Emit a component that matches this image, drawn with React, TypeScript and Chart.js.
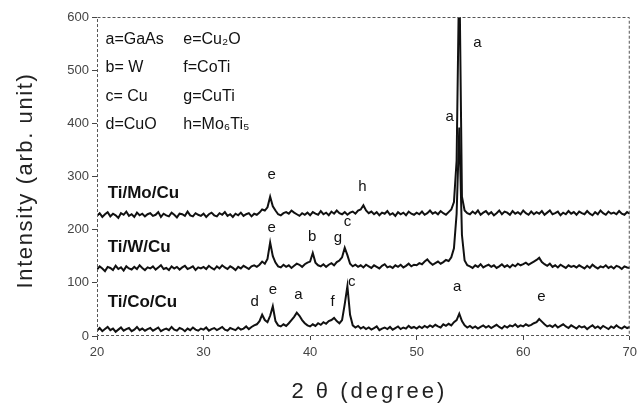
import React, { useEffect, useRef } from "react";
import { Chart, registerables } from "chart.js";

Chart.register(...registerables);

// 2θ grid (degrees), 0.25° step from 20 to 70
const twoTheta: number[] = Array.from({ length: 201 }, (_, i) => 20 + i * 0.25);

const tiMoCu: number[] = [
  226, 231, 224, 229, 233, 225, 230, 227, 222, 231, 228, 234, 226, 229, 224, 232, 227, 230, 225, 229,
  231, 226, 228, 233, 224, 230, 227, 225, 232, 228, 223, 230, 229, 226, 234, 227, 225, 231, 228, 226,
  230, 224, 229, 232, 227, 225, 231, 228, 233, 226, 229, 224, 230, 227, 232, 226, 229, 231, 225, 230,
  228, 232, 238, 236, 242, 262, 244, 236, 229, 227, 231, 233, 230, 236, 232, 229, 226, 231, 228, 232,
  227, 233, 230, 228, 235, 229, 232, 227, 234, 230, 236, 231, 229, 233, 228, 232, 234, 230, 236, 238,
  246, 236, 231, 234, 229, 233, 227, 232, 230, 235, 228, 231, 226, 233, 229, 232, 227, 234, 230, 228,
  232, 229, 234, 228, 231, 236, 230, 233, 229, 235, 231, 228, 233, 238, 252, 330, 700, 262, 236, 231,
  229, 234, 230, 236, 228, 232, 235, 229, 233, 227, 231, 236, 229, 234, 232, 228, 235, 230, 233, 229,
  236, 231, 228, 234, 229, 233, 230, 235, 228, 232, 236, 229, 231, 234, 227, 232, 229, 235, 230, 233,
  228, 234, 231, 229, 235, 230, 227, 233, 229, 236, 231, 228, 234, 230, 232, 229, 235, 230, 228, 233, 230,
];

const tiWCu: number[] = [
  125, 131, 127, 122, 130, 128, 124, 132, 126, 129, 123, 131, 127, 125, 130, 126, 133, 128, 124, 129,
  127, 131, 125, 129, 133, 126, 128, 124, 131, 127, 130, 125, 129, 132, 126, 128, 131, 124, 129, 127,
  130, 126, 132, 128, 125, 131, 127, 133, 129, 126, 131, 128, 124, 130, 127, 132, 129, 126, 131, 133,
  130, 134, 140, 136, 145, 176, 150, 138, 131, 129, 134, 130, 133, 128, 132, 136, 134, 130, 135, 138,
  140, 156, 138, 133, 131, 135, 130, 134, 137, 133, 139, 142, 148, 166, 152, 136, 131, 134, 130, 133,
  129, 134, 131, 128, 133, 130, 127, 132, 135, 129, 131, 128, 133, 130, 134, 129, 132, 136, 131, 134,
  133, 137, 135, 140, 144, 138, 134, 137, 140, 136, 139, 143, 141, 148, 165, 230, 392, 190, 142, 133,
  131, 128, 133, 130, 135, 129, 132, 134, 130, 133, 128, 131, 135, 130, 133, 129, 134, 131, 136, 133,
  135, 138, 134, 137, 140, 143, 147, 139, 135, 132, 136, 130, 133, 129, 134, 131, 128, 133, 130, 132,
  129, 133, 130, 127, 132, 128, 134, 130, 127, 131, 129, 133, 128, 131, 127, 132, 130, 126, 131, 129, 128,
];

const tiCoCu: number[] = [
  10, 15, 9, 13, 17, 11, 14, 8, 12, 16, 10, 13, 15, 9, 12, 17, 11, 14, 10, 13,
  15, 10, 13, 16, 9, 12, 14, 11, 17, 12, 10, 15, 13, 9, 14, 11, 16, 12, 10, 14,
  12, 16, 10, 13, 15, 11, 14, 17, 12, 10, 15, 13, 11, 16, 12, 14, 18, 13, 17, 20,
  22, 28, 40, 30, 26, 38, 56, 28, 20, 18, 22, 19, 24, 30, 36, 44, 38, 30, 24, 20,
  18, 22, 19, 24, 21, 26, 23, 28, 30, 34, 28, 24, 30, 60, 94, 40, 20, 16, 19, 14,
  17, 13, 16, 12, 15, 18, 11, 14, 16, 13, 17, 12, 15, 18, 13, 16, 14, 19, 15, 17,
  14, 18, 15, 19, 16, 20, 17, 21, 18, 16, 22, 19, 23, 20, 26, 30, 42, 28, 20, 16,
  19, 15, 18, 14, 17, 20, 16, 19, 15, 18, 21, 17, 14, 19, 16, 20, 18, 22, 17, 20,
  18, 22, 19, 21, 24, 26, 32, 27, 22, 18, 20, 17, 21, 16, 19, 22, 18, 15, 20, 17,
  14, 19, 16, 18, 13, 17, 20, 15, 18, 14, 19, 16, 13, 18, 15, 20, 16, 14, 18, 15, 17,
];

const seriesNames = ["Ti/Mo/Cu", "Ti/W/Cu", "Ti/Co/Cu"];
const seriesNameX = [21.0, 21.0, 21.0];
const seriesNameY = [269, 167, 64];

const peakLabels = ["e", "h", "a", "a", "e", "b", "g", "c", "d", "e", "a", "f", "c", "a", "e"];
const peakLabelX = [36.4, 44.9, 55.7, 53.1, 36.4, 40.2, 42.6, 43.5, 34.8, 36.5, 38.9, 42.1, 43.9, 53.8, 61.7];
const peakLabelY = [303, 280, 551, 412, 203, 186, 184, 214, 64, 86, 77, 64, 102, 92, 73];

const legendLeft = ["a=GaAs", "b= W", "c= Cu", "d=CuO"];
const legendRight = ["e=Cu\u2082O", "f=CoTi", "g=CuTi", "h=Mo\u2086Ti\u2085"];
const legendColX = [20.8, 28.1];
const legendRowY = [557, 504, 450, 397];

const xTitle = "2 \u03b8 (degree)";
const yTitle = "Intensity (arb. unit)";

const xTickStep = 10;
const yTickStep = 100;

const FONT = '"Liberation Sans", Arial, Helvetica, sans-serif';

const overlayPlugin = {
  id: "overlay",
  afterDatasetsDraw(chart: any) {
    const { ctx, chartArea: a, scales } = chart;
    const x = scales.x;
    const y = scales.y;
    ctx.save();
    ctx.strokeStyle = "#555";
    ctx.lineWidth = 1;
    ctx.setLineDash([3, 2]);
    ctx.strokeRect(a.left + 0.5, a.top + 0.5, a.right - a.left - 1, a.bottom - a.top - 1);
    ctx.setLineDash([]);
    ctx.fillStyle = "#111";
    ctx.textBaseline = "middle";
    ctx.textAlign = "left";
    ctx.font = `16px ${FONT}`;
    legendLeft.forEach((t, i) =>
      ctx.fillText(t, x.getPixelForValue(legendColX[0]), y.getPixelForValue(legendRowY[i]))
    );
    legendRight.forEach((t, i) =>
      ctx.fillText(t, x.getPixelForValue(legendColX[1]), y.getPixelForValue(legendRowY[i]))
    );
    ctx.font = `bold 17px ${FONT}`;
    seriesNames.forEach((t, i) =>
      ctx.fillText(t, x.getPixelForValue(seriesNameX[i]), y.getPixelForValue(seriesNameY[i]))
    );
    ctx.textAlign = "center";
    ctx.font = `15px ${FONT}`;
    peakLabels.forEach((t, i) =>
      ctx.fillText(t, x.getPixelForValue(peakLabelX[i]), y.getPixelForValue(peakLabelY[i]))
    );
    // axis titles (drawn with letter spacing to match the wide scanned lettering)
    ctx.fillStyle = "#222";
    ctx.font = `22px ${FONT}`;
    try {
      (ctx as any).letterSpacing = "3px";
    } catch (e) {}
    ctx.fillText(xTitle, (a.left + a.right) / 2 + 6, 392);
    try {
      (ctx as any).letterSpacing = "1.6px";
    } catch (e) {}
    ctx.translate(26, (a.top + a.bottom) / 2 + 4);
    ctx.rotate(-Math.PI / 2);
    ctx.fillText(yTitle, 0, 0);
    ctx.restore();
  },
};

export default function App() {
  const ref = useRef<HTMLCanvasElement | null>(null);
  useEffect(() => {
    if (!ref.current) return;
    const mk = (vals: number[]) => twoTheta.map((t, i) => ({ x: t, y: vals[i] }));
    const line = (label: string, vals: number[]) => ({
      label,
      data: mk(vals),
      borderColor: "#111",
      borderWidth: 2,
      pointRadius: 0,
      tension: 0,
      fill: false,
    });
    const chart = new Chart(ref.current, {
      type: "line",
      data: {
        datasets: [
          line(seriesNames[0], tiMoCu),
          line(seriesNames[1], tiWCu),
          line(seriesNames[2], tiCoCu),
        ],
      },
      options: {
        animation: false,
        responsive: false,
        maintainAspectRatio: false,
        layout: { padding: { left: 0, right: 11, top: 17, bottom: 0 } },
        plugins: { legend: { display: false }, tooltip: { enabled: false } },
        scales: {
          x: {
            type: "linear",
            min: 20,
            max: 70,
            border: { display: false },
            grid: { drawOnChartArea: false, drawTicks: true, tickLength: 4, color: "#444" },
            ticks: { stepSize: xTickStep, color: "#444", padding: 5, font: { size: 13, family: FONT } },
            afterFit: (s: any) => {
              s.height = 74;
            },
          },
          y: {
            min: 0,
            max: 600,
            border: { display: false },
            grid: { drawOnChartArea: false, drawTicks: true, tickLength: 5, color: "#444" },
            ticks: { stepSize: yTickStep, color: "#444", padding: 3, font: { size: 13, family: FONT } },
            afterFit: (s: any) => {
              s.width = 97;
            },
          },
        },
      },
      plugins: [overlayPlugin],
    });
    return () => chart.destroy();
  }, []);
  return (
    <div style={{ position: "fixed", left: 0, top: 0, width: 642, height: 410, background: "#fff" }}>
      <canvas ref={ref} width={642} height={410} style={{ width: 642, height: 410 }} />
    </div>
  );
}
